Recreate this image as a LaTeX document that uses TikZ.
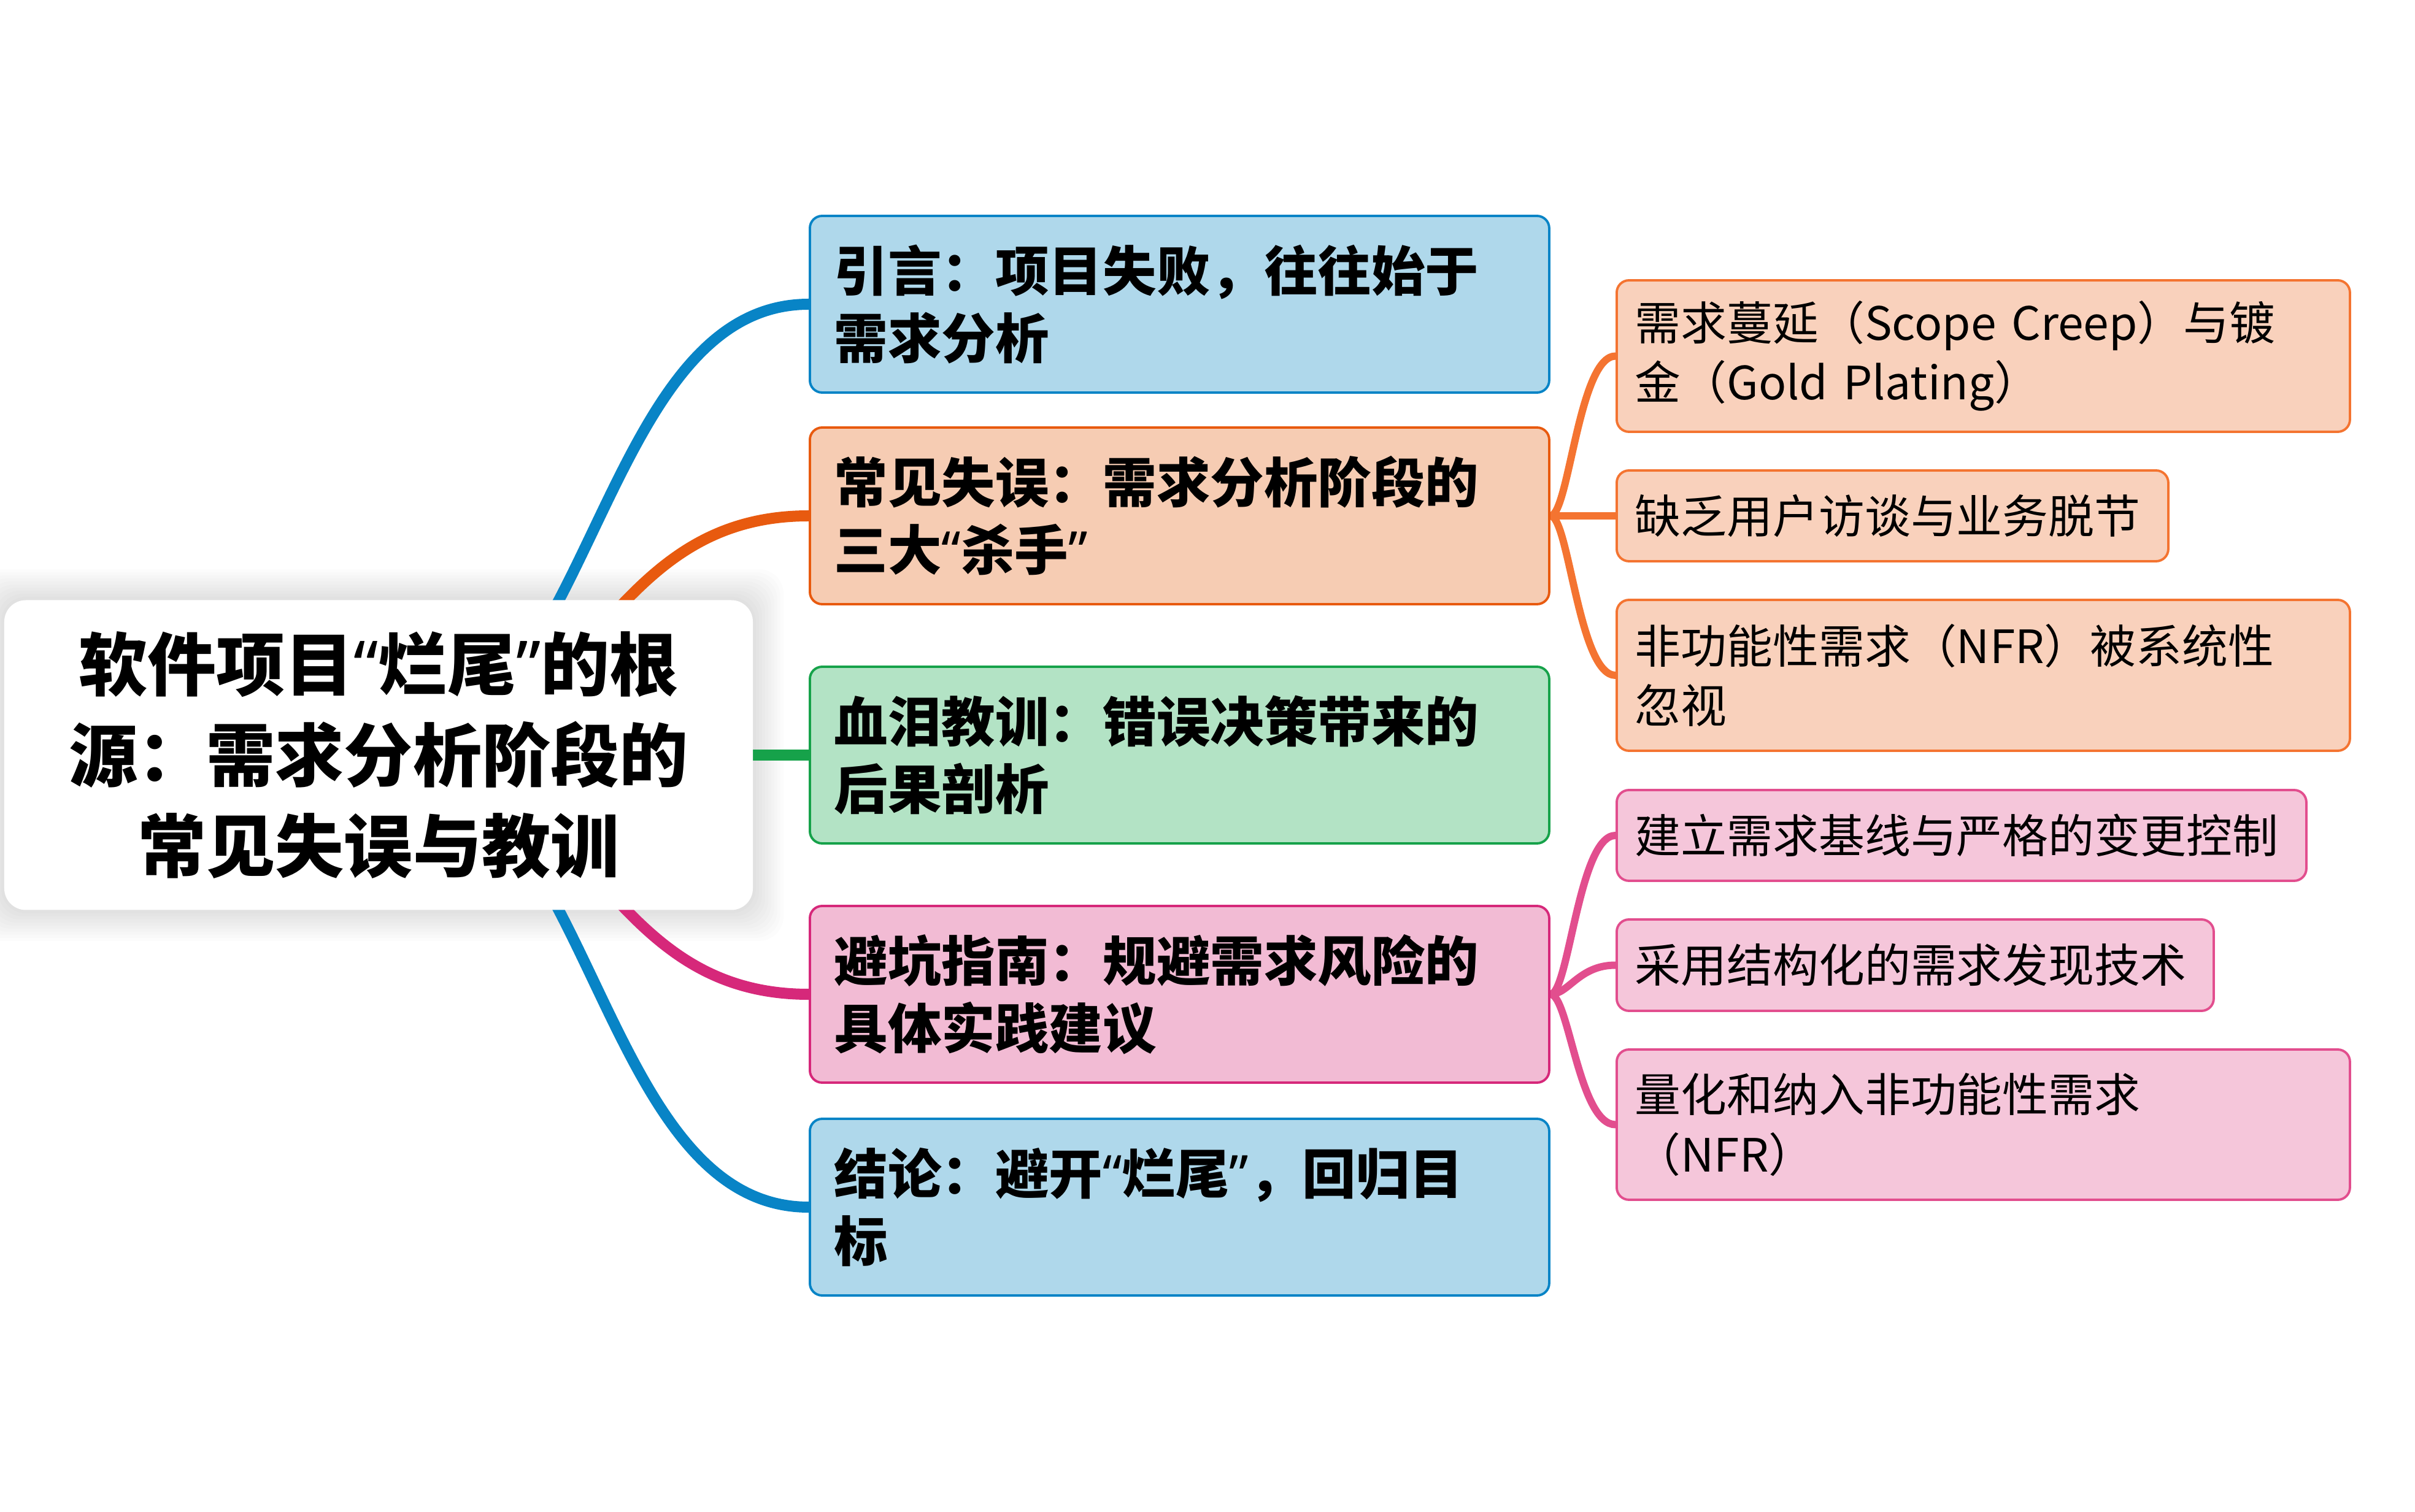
\documentclass[tikz,border=0pt]{standalone}
\usepackage{fontspec}
\newfontfamily\cjk{Noto Sans CJK SC}
\newfontfamily\quotefont{Noto Sans}
\newcommand\oq{{\quotefont“}}
\newcommand\cq{{\quotefont”}}
\usepackage{xcolor}
\definecolor{mmblue}{RGB}{8,132,198}
\definecolor{mmbluefill}{RGB}{175,216,235}
\definecolor{mmorange}{RGB}{232,90,15}
\definecolor{mmorangefill}{RGB}{246,204,179}
\definecolor{mmgreen}{RGB}{22,162,74}
\definecolor{mmgreenfill}{RGB}{179,227,197}
\definecolor{mmpink}{RGB}{214,40,122}
\definecolor{mmpinkfill}{RGB}{242,187,212}
\definecolor{suborange}{RGB}{244,116,49}
\definecolor{suborangefill}{RGB}{249,209,188}
\definecolor{subpink}{RGB}{226,78,142}
\definecolor{subpinkfill}{RGB}{245,198,218}
\usepackage{tikz}
\usetikzlibrary{backgrounds}

\begin{document}
\begin{tikzpicture}[
  topic/.style={draw, rounded corners=0.2cm, line width=1.1pt, anchor=west,
    minimum width=12.05cm, minimum height=2.88cm, text width=11.25cm, inner xsep=0.4cm,
    align=left, font=\cjk\bfseries\fontsize{24.9}{31.3}\selectfont},
  subtopic/.style={draw, rounded corners=0.2cm, line width=1.1pt, anchor=west,
    inner xsep=0.3cm, align=left, font=\cjk\fontsize{21.3}{27.7}\selectfont},
  branch/.style={line width=0.18cm, line cap=round},
  twig/.style={line width=0.12cm, line cap=round}
]
  \useasboundingbox (0,0) rectangle (39.36,24.64);

  % --- Root ---
  \node[fill=white, rounded corners=0.35cm, minimum width=12.2cm, minimum height=5.05cm,
    align=center, font=\cjk\bfseries\fontsize{31.9}{42.2}\selectfont] (root) at (6.17,12.33)
    {软件项目\oq 烂尾\cq 的根\\源：需求分析阶段的\\常见失误与教训};

  % --- Main topics ---
  \node[topic, draw=mmblue, fill=mmbluefill] (intro) at (13.18,19.68) {引言：项目失败，往往始于\\需求分析};
  \node[topic, draw=mmorange, fill=mmorangefill] (mistakes) at (13.18,16.23) {常见失误：需求分析阶段的\\三大\oq 杀手\cq};
  \node[topic, draw=mmgreen, fill=mmgreenfill] (lessons) at (13.18,12.33) {血泪教训：错误决策带来的\\后果剖析};
  \node[topic, draw=mmpink, fill=mmpinkfill] (guide) at (13.18,8.43) {避坑指南：规避需求风险的\\具体实践建议};
  \node[topic, draw=mmblue, fill=mmbluefill] (concl) at (13.18,4.96) {结论：避开\oq 烂尾\cq ，回归目\\标};

  % --- Sub topics: mistakes ---
  \node[subtopic, draw=suborange, fill=suborangefill, minimum width=11.95cm, text width=11.35cm, minimum height=2.47cm] (creep) at (26.33,18.835) {需求蔓延（Scope Creep）与镀\\金（Gold Plating）};
  \node[subtopic, draw=suborange, fill=suborangefill, minimum width=8.99cm, text width=8.39cm, minimum height=1.48cm] (interview) at (26.33,16.23) {缺乏用户访谈与业务脱节};
  \node[subtopic, draw=suborange, fill=suborangefill, minimum width=11.95cm, text width=11.35cm, minimum height=2.46cm] (nfr) at (26.33,13.63) {非功能性需求（NFR）被系统性\\忽视};

  % --- Sub topics: guide ---
  \node[subtopic, draw=subpink, fill=subpinkfill, minimum width=11.24cm, text width=10.64cm, minimum height=1.48cm] (baseline) at (26.33,11.02) {建立需求基线与严格的变更控制};
  \node[subtopic, draw=subpink, fill=subpinkfill, minimum width=9.73cm, text width=9.13cm, minimum height=1.49cm] (discovery) at (26.33,8.905) {采用结构化的需求发现技术};
  \node[subtopic, draw=subpink, fill=subpinkfill, minimum width=11.95cm, text width=11.35cm, minimum height=2.45cm] (quantify) at (26.33,6.305) {量化和纳入非功能性需求\\（NFR）};

  \begin{pgfonlayer}{background}
    % soft shadow round the root
    \foreach \g in {1,...,10}
      \fill[black, opacity=0.012, rounded corners=0.4cm] ({0.07-\g*0.05},{9.80-\g*0.05}) rectangle ({12.27+\g*0.05},{14.86+\g*0.05});
    % root to topics
    \draw[branch, mmblue] (root.center) .. controls +(3.5,0) and +(-3.5,0) .. (intro.west);
    \draw[branch, mmorange] (root.center) .. controls +(3.5,0) and +(-3.5,0) .. (mistakes.west);
    \draw[branch, mmgreen] (root.center) -- (lessons.west);
    \draw[branch, mmpink] (root.center) .. controls +(3.5,0) and +(-3.5,0) .. (guide.west);
    \draw[branch, mmblue] (root.center) .. controls +(3.5,0) and +(-3.5,0) .. (concl.west);
    % topics to sub topics
    \foreach \s in {creep, interview, nfr}
      \draw[twig, suborange] (mistakes.east) .. controls +(0.3,0) and +(-0.6,0) .. (\s.west);
    \foreach \s in {baseline, discovery, quantify}
      \draw[twig, subpink] (guide.east) .. controls +(0.3,0) and +(-0.6,0) .. (\s.west);
  \end{pgfonlayer}
\end{tikzpicture}
\end{document}
